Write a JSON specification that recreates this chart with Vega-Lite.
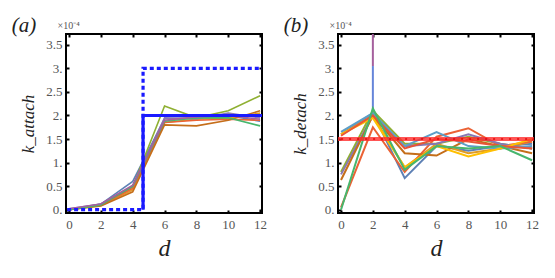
{
  "$schema": "https://vega.github.io/schema/vega-lite/v6.json",
  "padding": {"left": 10, "top": 14, "right": 5, "bottom": 5},
  "background": "white",
  "spacing": 14,
  "resolve": {"scale": {"color": "independent", "strokeDash": "independent"}},
  "config": {
    "view": {"stroke": "black", "strokeWidth": 2},
    "axis": {
      "domain": false, "grid": false, "tickSize": -3, "tickColor": "black", "tickWidth": 2,
      "labelFont": "Liberation Serif", "labelFontSize": 13, "labelColor": "#555",
      "titleFont": "Liberation Serif", "titleFontWeight": "normal", "titleColor": "#222"
    },
    "title": {"font": "Liberation Serif", "fontSize": 21, "fontWeight": "normal", "fontStyle": "italic", "anchor": "start", "frame": "bounds", "color": "#222"}
  },
  "datasets": {
    "a": [
      {"d": 0, "k": 0.0, "s": "s1"}, {"d": 2, "k": 0.12, "s": "s1"}, {"d": 4, "k": 0.6, "s": "s1"}, {"d": 6, "k": 1.93, "s": "s1"}, {"d": 8, "k": 1.95, "s": "s1"}, {"d": 10, "k": 2.0, "s": "s1"}, {"d": 12, "k": 1.88, "s": "s1"},
      {"d": 0, "k": 0.0, "s": "s2"}, {"d": 2, "k": 0.09, "s": "s2"}, {"d": 4, "k": 0.42, "s": "s2"}, {"d": 6, "k": 1.85, "s": "s2"}, {"d": 8, "k": 1.92, "s": "s2"}, {"d": 10, "k": 1.95, "s": "s2"}, {"d": 12, "k": 2.05, "s": "s2"},
      {"d": 0, "k": 0.0, "s": "s3"}, {"d": 2, "k": 0.1, "s": "s3"}, {"d": 4, "k": 0.48, "s": "s3"}, {"d": 6, "k": 2.2, "s": "s3"}, {"d": 8, "k": 1.95, "s": "s3"}, {"d": 10, "k": 2.1, "s": "s3"}, {"d": 12, "k": 2.42, "s": "s3"},
      {"d": 0, "k": 0.0, "s": "s4"}, {"d": 2, "k": 0.1, "s": "s4"}, {"d": 4, "k": 0.45, "s": "s4"}, {"d": 6, "k": 1.85, "s": "s4"}, {"d": 8, "k": 1.9, "s": "s4"}, {"d": 10, "k": 1.92, "s": "s4"}, {"d": 12, "k": 1.9, "s": "s4"},
      {"d": 0, "k": 0.02, "s": "s5"}, {"d": 2, "k": 0.12, "s": "s5"}, {"d": 4, "k": 0.5, "s": "s5"}, {"d": 6, "k": 1.95, "s": "s5"}, {"d": 8, "k": 1.93, "s": "s5"}, {"d": 10, "k": 2.05, "s": "s5"}, {"d": 12, "k": 1.95, "s": "s5"},
      {"d": 0, "k": 0.0, "s": "s6"}, {"d": 2, "k": 0.08, "s": "s6"}, {"d": 4, "k": 0.38, "s": "s6"}, {"d": 6, "k": 1.8, "s": "s6"}, {"d": 8, "k": 1.78, "s": "s6"}, {"d": 10, "k": 1.9, "s": "s6"}, {"d": 12, "k": 2.1, "s": "s6"},
      {"d": 0, "k": 0.0, "s": "s7"}, {"d": 2, "k": 0.1, "s": "s7"}, {"d": 4, "k": 0.5, "s": "s7"}, {"d": 6, "k": 1.88, "s": "s7"}, {"d": 8, "k": 1.95, "s": "s7"}, {"d": 10, "k": 1.95, "s": "s7"}, {"d": 12, "k": 1.78, "s": "s7"},
      {"d": 0, "k": 0.02, "s": "s8"}, {"d": 2, "k": 0.12, "s": "s8"}, {"d": 4, "k": 0.52, "s": "s8"}, {"d": 6, "k": 1.9, "s": "s8"}, {"d": 8, "k": 1.97, "s": "s8"}, {"d": 10, "k": 2.0, "s": "s8"}, {"d": 12, "k": 1.92, "s": "s8"}
    ],
    "stepA": [
      {"d": 4.65, "k": 0, "line": "true"}, {"d": 4.65, "k": 2.0, "line": "true"}, {"d": 13, "k": 2.0, "line": "true"},
      {"d": -1, "k": 0, "line": "upper"}, {"d": 4.65, "k": 0, "line": "upper"}, {"d": 4.65, "k": 3.0, "line": "upper"}, {"d": 13, "k": 3.0, "line": "upper"}
    ],
    "b": [
      {"d": 0, "k": 1.6, "s": "s1"}, {"d": 2, "k": 2.05, "s": "s1"}, {"d": 4, "k": 0.67, "s": "s1"}, {"d": 6, "k": 1.35, "s": "s1"}, {"d": 8, "k": 1.25, "s": "s1"}, {"d": 10, "k": 1.35, "s": "s1"}, {"d": 12, "k": 1.4, "s": "s1"},
      {"d": 0, "k": 1.6, "s": "s2"}, {"d": 2, "k": 2.0, "s": "s2"}, {"d": 4, "k": 0.9, "s": "s2"}, {"d": 6, "k": 1.4, "s": "s2"}, {"d": 8, "k": 1.2, "s": "s2"}, {"d": 10, "k": 1.3, "s": "s2"}, {"d": 12, "k": 1.45, "s": "s2"},
      {"d": 0, "k": 0.8, "s": "s3"}, {"d": 2, "k": 2.1, "s": "s3"}, {"d": 4, "k": 1.4, "s": "s3"}, {"d": 6, "k": 1.4, "s": "s3"}, {"d": 8, "k": 1.55, "s": "s3"}, {"d": 10, "k": 1.4, "s": "s3"}, {"d": 12, "k": 1.3, "s": "s3"},
      {"d": 0, "k": 0.05, "s": "s4"}, {"d": 2, "k": 1.75, "s": "s4"}, {"d": 4, "k": 0.8, "s": "s4"}, {"d": 6, "k": 1.55, "s": "s4"}, {"d": 8, "k": 1.73, "s": "s4"}, {"d": 10, "k": 1.35, "s": "s4"}, {"d": 12, "k": 1.45, "s": "s4"},
      {"d": 0, "k": 0.75, "s": "s5"}, {"d": 2, "k": 2.0, "s": "s5"}, {"d": 4, "k": 1.35, "s": "s5"}, {"d": 6, "k": 1.4, "s": "s5"}, {"d": 8, "k": 1.6, "s": "s5"}, {"d": 10, "k": 1.4, "s": "s5"}, {"d": 12, "k": 1.3, "s": "s5"},
      {"d": 0, "k": 0.63, "s": "s6"}, {"d": 2, "k": 2.0, "s": "s6"}, {"d": 4, "k": 1.2, "s": "s6"}, {"d": 6, "k": 1.15, "s": "s6"}, {"d": 8, "k": 1.5, "s": "s6"}, {"d": 10, "k": 1.35, "s": "s6"}, {"d": 12, "k": 1.2, "s": "s6"},
      {"d": 0, "k": 1.65, "s": "s7"}, {"d": 2, "k": 2.05, "s": "s7"}, {"d": 4, "k": 1.35, "s": "s7"}, {"d": 6, "k": 1.65, "s": "s7"}, {"d": 8, "k": 1.35, "s": "s7"}, {"d": 10, "k": 1.3, "s": "s7"}, {"d": 12, "k": 1.35, "s": "s7"},
      {"d": 0, "k": 1.6, "s": "s8"}, {"d": 2, "k": 1.95, "s": "s8"}, {"d": 4, "k": 0.9, "s": "s8"}, {"d": 6, "k": 1.35, "s": "s8"}, {"d": 8, "k": 1.13, "s": "s8"}, {"d": 10, "k": 1.3, "s": "s8"}, {"d": 12, "k": 1.5, "s": "s8"},
      {"d": 2, "k": 2.1, "s": "s9"}, {"d": 2, "k": 3.05, "s": "s9"},
      {"d": 2, "k": 3.05, "s": "s10"}, {"d": 2, "k": 3.9, "s": "s10"},
      {"d": 0, "k": 1.57, "s": "s11"}, {"d": 2, "k": 2.0, "s": "s11"}, {"d": 4, "k": 1.3, "s": "s11"}, {"d": 6, "k": 1.5, "s": "s11"}, {"d": 8, "k": 1.45, "s": "s11"}, {"d": 10, "k": 1.35, "s": "s11"}, {"d": 12, "k": 1.3, "s": "s11"},
      {"d": 0, "k": 0.0, "s": "s12"}, {"d": 2, "k": 2.15, "s": "s12"}, {"d": 4, "k": 0.85, "s": "s12"}, {"d": 6, "k": 1.35, "s": "s12"}, {"d": 8, "k": 1.3, "s": "s12"}, {"d": 10, "k": 1.35, "s": "s12"}, {"d": 12, "k": 1.05, "s": "s12"}
    ],
    "refB": [
      {"d": -1, "k": 1.5}, {"d": 13, "k": 1.5}
    ]
  },
  "hconcat": [
    {
      "title": {"text": "(a)", "dx": -8, "offset": -16},
      "width": 196, "height": 179,
      "resolve": {"axis": {"x": "independent", "y": "independent"}},
      "layer": [
        {
          "data": {"name": "a"},
          "mark": {"type": "line", "strokeWidth": 1.6, "clip": true},
          "encoding": {
            "x": {"field": "d", "type": "quantitative", "scale": {"domain": [-0.19, 12.12], "nice": false, "zero": false},
              "axis": {"orient": "bottom", "values": [0, 2, 4, 6, 8, 10, 12], "title": "d", "titleFontSize": 24, "titleFontStyle": "italic", "titlePadding": 5, "labelPadding": 8}},
            "y": {"field": "k", "type": "quantitative", "scale": {"domain": [-0.07, 3.73], "nice": false, "zero": false},
              "axis": {"orient": "left", "values": [0, 0.5, 1, 1.5, 2, 2.5, 3, 3.5], "labelExpr": "datum.value % 1 === 0 ? format(datum.value, 'd') + '.' : format(datum.value, '.1f')", "title": "k_attach", "titleFontSize": 17, "titleFontStyle": "italic", "titlePadding": 8, "labelPadding": 7}},
            "color": {"field": "s", "type": "nominal", "legend": null,
              "scale": {"domain": ["s1", "s2", "s3", "s4", "s5", "s6", "s7", "s8"], "range": ["#5E81B5", "#E19C24", "#8FB032", "#EB6235", "#8778B3", "#C56E1A", "#47B66D", "#A5609D"]}}
          }
        },
        {
          "data": {"name": "stepA"},
          "mark": {"type": "line", "strokeWidth": 3.2, "clip": true, "color": "#1a1aff"},
          "encoding": {
            "x": {"field": "d", "type": "quantitative",
              "axis": {"orient": "top", "values": [0, 2, 4, 6, 8, 10, 12], "labels": false, "title": "×10⁻⁴", "titleFontSize": 10, "titleColor": "#555", "titleAnchor": "start", "titleAngle": 0, "titleX": -9, "titleY": -4, "titleBaseline": "bottom", "titleFontStyle": "normal"}},
            "y": {"field": "k", "type": "quantitative",
              "axis": {"orient": "right", "values": [0, 0.5, 1, 1.5, 2, 2.5, 3, 3.5], "labels": false, "title": null}},
            "detail": {"field": "line"},
            "strokeDash": {"field": "line", "type": "nominal", "legend": null, "scale": {"domain": ["true", "upper"], "range": [[1, 0], [4, 3]]}}
          }
        }
      ]
    },
    {
      "title": {"text": "(b)", "dx": -8, "offset": -16},
      "width": 196, "height": 179,
      "resolve": {"axis": {"x": "independent", "y": "independent"}},
      "layer": [
        {
          "data": {"name": "b"},
          "mark": {"type": "line", "strokeWidth": 2, "clip": true},
          "encoding": {
            "x": {"field": "d", "type": "quantitative", "scale": {"domain": [-0.19, 12.12], "nice": false, "zero": false},
              "axis": {"orient": "bottom", "values": [0, 2, 4, 6, 8, 10, 12], "title": "d", "titleFontSize": 24, "titleFontStyle": "italic", "titlePadding": 5, "labelPadding": 8}},
            "y": {"field": "k", "type": "quantitative", "scale": {"domain": [-0.07, 3.73], "nice": false, "zero": false},
              "axis": {"orient": "left", "values": [0, 0.5, 1, 1.5, 2, 2.5, 3, 3.5], "labelExpr": "datum.value % 1 === 0 ? format(datum.value, 'd') + '.' : format(datum.value, '.1f')", "title": "k_detach", "titleFontSize": 17, "titleFontStyle": "italic", "titlePadding": 8, "labelPadding": 7}},
            "color": {"field": "s", "type": "nominal", "legend": null,
              "scale": {"domain": ["s1", "s2", "s3", "s4", "s5", "s6", "s7", "s8", "s9", "s10", "s11", "s12"], "range": ["#5E81B5", "#E19C24", "#8FB032", "#EB6235", "#8778B3", "#C56E1A", "#5D9EC7", "#FFBF00", "#6685D9", "#A5609D", "#E95536", "#47B66D"]}}
          }
        },
        {
          "data": {"name": "refB"},
          "mark": {"type": "line", "strokeWidth": 4, "clip": true, "color": "#ff2a2a", "opacity": 0.8},
          "encoding": {
            "x": {"field": "d", "type": "quantitative",
              "axis": {"orient": "top", "values": [0, 2, 4, 6, 8, 10, 12], "labels": false, "title": "×10⁻⁴", "titleFontSize": 10, "titleColor": "#555", "titleAnchor": "start", "titleAngle": 0, "titleX": -9, "titleY": -4, "titleBaseline": "bottom", "titleFontStyle": "normal"}},
            "y": {"field": "k", "type": "quantitative",
              "axis": {"orient": "right", "values": [0, 0.5, 1, 1.5, 2, 2.5, 3, 3.5], "labels": false, "title": null}}
          }
        },
        {
          "data": {"name": "refB"},
          "mark": {"type": "line", "strokeWidth": 2, "clip": true, "color": "#e00000", "strokeDash": [2, 6], "opacity": 0.7},
          "encoding": {
            "x": {"field": "d", "type": "quantitative", "axis": null},
            "y": {"field": "k", "type": "quantitative", "axis": null}
          }
        }
      ]
    }
  ]
}
